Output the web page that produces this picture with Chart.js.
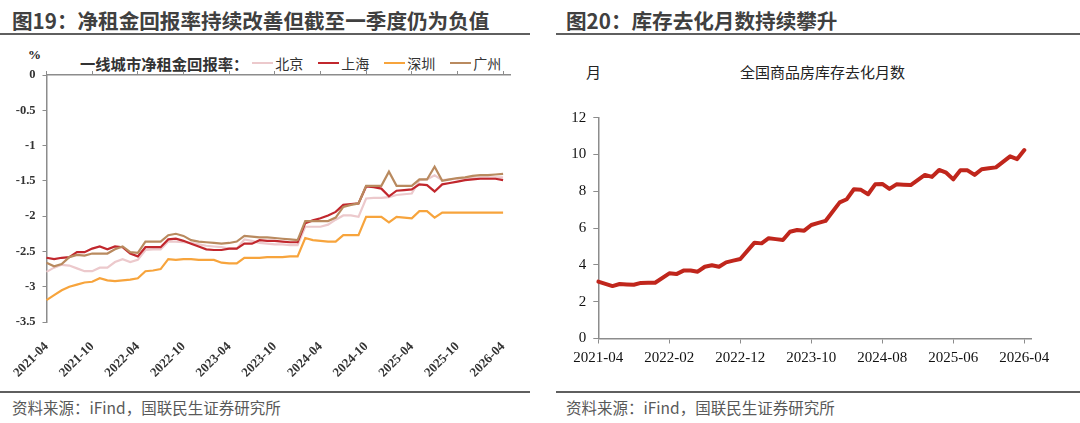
<!DOCTYPE html>
<html lang="zh-CN">
<head>
<meta charset="utf-8">
<script src="https://cdn.jsdelivr.net/npm/chart.js@4.4.1/dist/chart.umd.min.js"></script>
<style>
  body { margin:0; width:1080px; height:423px; background:#fff; position:relative; overflow:hidden; font-family:"Noto Sans CJK SC", sans-serif; }
  .title { position:absolute; top:7px; font-size:20.6px; font-weight:bold; color:#404040; white-space:nowrap; line-height:26px; }
  .rule { position:absolute; height:2px; background:#5f5f5f; }
  .source { position:absolute; top:396px; font-size:15.5px; color:#595959; white-space:nowrap; line-height:22px; }
  canvas { position:absolute; top:0; }
  .unit { position:absolute; font-family:"Liberation Serif", serif; color:#222; white-space:nowrap; }
  .legend { position:absolute; left:80px; top:52px; height:22px; display:flex; align-items:center; }
  .lg-title { font-size:15.3px; font-weight:bold; color:#333; margin-right:4px; }
  .lg-item { display:flex; align-items:center; margin-right:15px; }
  .lg-line { width:21px; height:2.5px; margin-right:2px; }
  .lg-text { font-size:14px; color:#333; }
  .ctitle { position:absolute; font-size:15px; color:#222; white-space:nowrap; }
</style>
</head>
<body>
<div class="title" style="left:12px">图19：净租金回报率持续改善但截至一季度仍为负值</div>
<div class="title" style="left:566px">图20：库存去化月数持续攀升</div>
<div class="rule" style="left:0;top:33px;width:530px"></div>
<div class="rule" style="left:556px;top:33px;width:524px"></div>

<div class="unit" style="left:28px;top:47px;font-size:13px;font-weight:bold">%</div>
<div class="legend" id="legend"><span class="lg-title">一线城市净租金回报率：</span></div>

<div class="ctitle" style="left:586px;top:61px">月</div>
<div class="ctitle" style="left:740px;top:61px">全国商品房库存去化月数</div>

<canvas id="rent" width="540" height="392" style="left:0"></canvas>
<canvas id="stock" width="540" height="392" style="left:540px"></canvas>

<div class="rule" style="left:0;top:391px;width:530px"></div>
<div class="rule" style="left:556px;top:391px;width:524px"></div>
<div class="source" style="left:12px">资料来源：iFind，国联民生证券研究所</div>
<div class="source" style="left:566px">资料来源：iFind，国联民生证券研究所</div>

<script>
// 月份 2021-04 ~ 2026-05
const months = [];
for (let y = 2021, m = 4; months.length < 62; m++) {
  if (m > 12) { m = 1; y++; }
  months.push(y + '-' + String(m).padStart(2, '0'));
}

// 图19 一线城市净租金回报率 (%)
const cities = ['北京', '上海', '深圳', '广州'];
const cityColors = ['#ecc9cc', '#c1272d', '#f7a43c', '#b98a5f'];
const beijing = [-2.79,-2.73,-2.69,-2.70,-2.74,-2.78,-2.78,-2.73,-2.73,-2.65,-2.61,-2.65,-2.62,-2.48,-2.47,-2.47,
  -2.36,-2.36,-2.37,-2.38,-2.40,-2.42,-2.43,-2.44,-2.46,-2.46,-2.33,-2.35,-2.38,-2.39,-2.40,-2.40,-2.41,-2.41,
  -2.15,-2.15,-2.15,-2.12,-2.05,-1.99,-1.99,-2.01,-1.75,-1.74,-1.74,-1.73,-1.70,-1.69,-1.68,-1.49,-1.48,-1.42,
  -1.49,-1.48,-1.47,-1.46,-1.46,-1.45,-1.45,-1.45,-1.45];
const shanghai = [-2.59,-2.61,-2.59,-2.58,-2.51,-2.51,-2.46,-2.43,-2.47,-2.43,-2.44,-2.53,-2.57,-2.44,-2.44,-2.44,
  -2.33,-2.32,-2.35,-2.39,-2.43,-2.47,-2.48,-2.48,-2.46,-2.46,-2.39,-2.39,-2.34,-2.35,-2.35,-2.36,-2.37,-2.37,
  -2.10,-2.06,-2.03,-1.99,-1.94,-1.84,-1.83,-1.82,-1.58,-1.59,-1.61,-1.72,-1.64,-1.63,-1.62,-1.55,-1.56,-1.65,
  -1.55,-1.53,-1.51,-1.49,-1.48,-1.47,-1.47,-1.47,-1.49];
const shenzhen = [-3.19,-3.12,-3.05,-3.00,-2.97,-2.94,-2.93,-2.88,-2.91,-2.92,-2.91,-2.90,-2.88,-2.78,-2.77,-2.75,
  -2.61,-2.62,-2.61,-2.61,-2.62,-2.62,-2.62,-2.66,-2.67,-2.67,-2.59,-2.59,-2.59,-2.58,-2.58,-2.58,-2.57,-2.57,
  -2.31,-2.34,-2.35,-2.36,-2.36,-2.27,-2.27,-2.27,-2.01,-2.01,-2.01,-2.09,-2.01,-2.02,-2.03,-1.93,-1.93,-2.02,
  -1.95,-1.95,-1.95,-1.95,-1.95,-1.95,-1.95,-1.95,-1.95];
const guangzhou = [-2.66,-2.71,-2.68,-2.58,-2.55,-2.56,-2.53,-2.53,-2.53,-2.47,-2.43,-2.51,-2.52,-2.36,-2.36,-2.36,
  -2.27,-2.25,-2.28,-2.34,-2.36,-2.37,-2.38,-2.39,-2.38,-2.36,-2.28,-2.29,-2.30,-2.30,-2.31,-2.32,-2.33,-2.34,
  -2.07,-2.07,-2.07,-2.07,-2.02,-1.87,-1.84,-1.82,-1.57,-1.57,-1.57,-1.37,-1.57,-1.57,-1.57,-1.48,-1.48,-1.30,
  -1.50,-1.48,-1.46,-1.45,-1.43,-1.42,-1.42,-1.41,-1.40];
const citySeries = [beijing, shanghai, shenzhen, guangzhou];
const cityOrder = [3, 1, 2, 0];

// 图20 全国商品房库存去化月数 (1月与2月合并公布, 1月为空)
const destock = [3.09,2.97,2.85,2.96,2.94,2.92,3.02,3.03,3.03,null,3.54,3.50,3.69,3.70,3.63,3.90,3.98,3.90,4.14,4.23,
  4.32,null,5.21,5.17,5.45,5.40,5.35,5.80,5.90,5.86,6.17,6.28,6.39,null,7.40,7.57,8.11,8.08,7.84,8.38,8.40,8.13,
  8.38,8.36,8.34,null,8.89,8.78,9.16,9.01,8.65,9.14,9.14,8.89,9.20,9.25,9.30,null,9.90,9.75,10.24];

// 图例
const legend = document.getElementById('legend');
cities.forEach((c, i) => {
  const item = document.createElement('span');
  item.className = 'lg-item';
  item.innerHTML = '<span class="lg-line" style="background:' + cityColors[i] + '"></span><span class="lg-text">' + c + '</span>';
  legend.appendChild(item);
});

const serif = "'Liberation Serif', 'Times New Roman', serif";
const axisGray = '#8c8c8c';

new Chart(document.getElementById('rent'), {
  type: 'line',
  data: {
    labels: months,
    datasets: cities.map((c, i) => ({
      label: c, data: citySeries[i], borderColor: cityColors[i], borderWidth: 2.2,
      pointRadius: 0, tension: 0, order: cityOrder[i], xAxisID: 'x', yAxisID: 'y'
    }))
  },
  options: {
    responsive: false, animation: false, devicePixelRatio: 1,
    layout: { padding: { top: 71, left: 0, right: 29.3, bottom: 0 } },
    plugins: { legend: { display: false }, tooltip: { enabled: false } },
    scales: {
      x: {
        type: 'category', position: 'top',
        grid: { drawOnChartArea: false, tickLength: 4, color: c => c.index % 6 === 0 ? axisGray : 'rgba(0,0,0,0)' },
        border: { color: axisGray, width: 1.5 },
        ticks: { display: false },
        afterFit: s => { s.height = 4; }
      },
      x2: {
        type: 'category', position: 'bottom',
        grid: { display: false }, border: { display: false },
        ticks: {
          autoSkip: false, maxRotation: 45, minRotation: 45, padding: 9,
          font: { family: serif, size: 13, weight: 'bold' }, color: '#333',
          callback: (v, i) => i % 6 === 0 ? months[i] : ''
        },
        afterFit: s => { s.height = 70; }
      },
      y: {
        min: -3.5, max: 0,
        ticks: { stepSize: 0.5, padding: 7, font: { family: serif, size: 12.5, weight: 'bold' }, color: '#333',
          callback: v => String(Math.round(v * 10) / 10) },
        grid: { drawOnChartArea: false, tickLength: 4, color: axisGray },
        border: { color: axisGray, width: 1.5 },
        afterFit: s => { s.width = 46.5; }
      }
    }
  }
});

new Chart(document.getElementById('stock'), {
  type: 'line',
  data: {
    labels: months,
    datasets: [{
      label: '全国商品房库存去化月数', data: destock, borderColor: '#c0261c', borderWidth: 4,
      pointRadius: 0, tension: 0, spanGaps: true, borderJoinStyle: 'round', borderCapStyle: 'round'
    }]
  },
  options: {
    responsive: false, animation: false, devicePixelRatio: 1,
    layout: { padding: { top: 117.7, left: 0, right: 48.6, bottom: 0 } },
    plugins: { legend: { display: false }, tooltip: { enabled: false } },
    scales: {
      x: {
        type: 'category',
        grid: { drawOnChartArea: false, tickLength: 5, color: c => c.index % 10 === 0 ? axisGray : 'rgba(0,0,0,0)' },
        border: { color: axisGray, width: 1.5 },
        ticks: {
          autoSkip: false, maxRotation: 0, minRotation: 0, padding: 6,
          font: { family: serif, size: 15 }, color: '#111',
          callback: (v, i) => i % 10 === 0 ? months[i] : ''
        },
        afterFit: s => { s.height = 53.5; }
      },
      y: {
        min: 0, max: 12,
        ticks: { stepSize: 2, padding: 7, font: { family: serif, size: 15 }, color: '#111' },
        grid: { drawOnChartArea: false, tickLength: 5, color: axisGray },
        border: { color: axisGray, width: 1.5 },
        afterFit: s => { s.width = 58.3; }
      }
    }
  }
});
</script>
</body>
</html>
